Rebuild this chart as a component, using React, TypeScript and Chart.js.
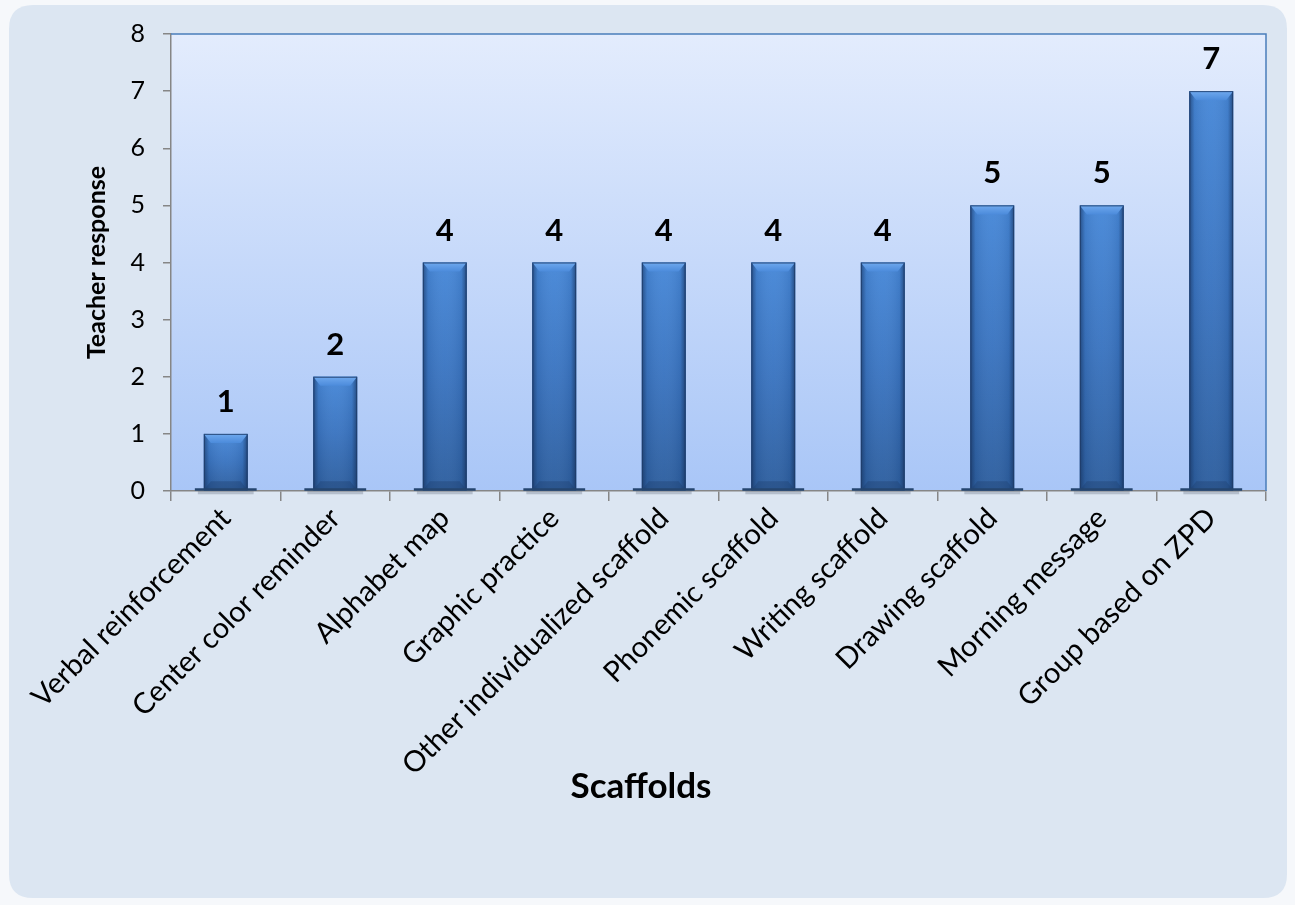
import { useEffect, useRef } from "react";
import { Chart, registerables } from "chart.js";
Chart.register(...registerables);

const categories = [
  "Verbal reinforcement",
  "Center color reminder",
  "Alphabet map",
  "Graphic practice",
  "Other individualized scaffold",
  "Phonemic scaffold",
  "Writing scaffold",
  "Drawing scaffold",
  "Morning message",
  "Group based on ZPD",
];
const values = [1, 2, 4, 4, 4, 4, 4, 5, 5, 7];
const yMin = 0;
const yMax = 8;
const yStep = 1;
const xTitle = "Scaffolds";
const yTitle = "Teacher response";

const FONT = "Lato, 'Open Sans', sans-serif";

const backgroundPlugin = {
  id: "bgPanel",
  beforeDraw(chart: any) {
    const { ctx, width, height, chartArea } = chart;
    ctx.save();
    ctx.fillStyle = "#f6f8fb";
    ctx.fillRect(0, 0, width, height);
    const x = 9, y = 5, w = 1278, h = 893, r = 24;
    ctx.beginPath();
    ctx.moveTo(x + r, y);
    ctx.lineTo(x + w - r, y);
    ctx.quadraticCurveTo(x + w, y, x + w, y + r);
    ctx.lineTo(x + w, y + h - r);
    ctx.quadraticCurveTo(x + w, y + h, x + w - r, y + h);
    ctx.lineTo(x + r, y + h);
    ctx.quadraticCurveTo(x, y + h, x, y + h - r);
    ctx.lineTo(x, y + r);
    ctx.quadraticCurveTo(x, y, x + r, y);
    ctx.closePath();
    ctx.fillStyle = "#dce6f2";
    ctx.fill();
    const g = ctx.createLinearGradient(0, chartArea.top, 0, chartArea.bottom);
    g.addColorStop(0, "#e3ecfd");
    g.addColorStop(1, "#a9c6f7");
    ctx.fillStyle = g;
    ctx.fillRect(chartArea.left, chartArea.top, chartArea.right - chartArea.left, chartArea.bottom - chartArea.top);
    ctx.restore();
  },
  afterDraw(chart: any) {
    const { ctx } = chart;
    ctx.save();
    ctx.fillStyle = "#000";
    ctx.font = `bold 35px ${FONT}`;
    ctx.textAlign = "center";
    ctx.textBaseline = "middle";
    ctx.fillText(xTitle, 641, 787);
    ctx.restore();
  },
};

const barPlugin = {
  id: "barDecor",
  afterDatasetsDraw(chart: any) {
    const { ctx, chartArea } = chart;
    const meta = chart.getDatasetMeta(0);
    ctx.save();
    ctx.strokeStyle = "#4a7ebb";
    ctx.lineWidth = 1.5;
    ctx.beginPath();
    ctx.moveTo(chartArea.left, chartArea.top);
    ctx.lineTo(chartArea.right, chartArea.top);
    ctx.lineTo(chartArea.right, chartArea.bottom);
    ctx.stroke();

    meta.data.forEach((el: any, i: number) => {
      const { x, y, base, width } = el.getProps(["x", "y", "base", "width"], true);
      const left = x - width / 2;
      const right = x + width / 2;
      const top = y;
      const bottom = base;
      const h = bottom - top;
      ctx.fillStyle = "rgba(60,70,90,0.25)";
      ctx.fillRect(left - 6, bottom + 1, width + 12, 3);
      const vg = ctx.createLinearGradient(0, top, 0, bottom);
      vg.addColorStop(0, "#4788d8");
      vg.addColorStop(0.5, "#3a74c0");
      vg.addColorStop(1, "#2d5e9e");
      ctx.fillStyle = vg;
      ctx.fillRect(left, top, width, h);
      const hg = ctx.createLinearGradient(left, 0, right, 0);
      hg.addColorStop(0, "rgba(20,45,85,0.6)");
      hg.addColorStop(0.12, "rgba(20,45,85,0.1)");
      hg.addColorStop(0.5, "rgba(255,255,255,0.03)");
      hg.addColorStop(0.88, "rgba(20,45,85,0.1)");
      hg.addColorStop(1, "rgba(20,45,85,0.65)");
      ctx.fillStyle = hg;
      ctx.fillRect(left, top, width, h);
      const bev = Math.min(9, h / 2);
      const tg = ctx.createLinearGradient(0, top, 0, top + bev);
      tg.addColorStop(0, "#6fa9ee");
      tg.addColorStop(1, "#4c8bdb");
      ctx.fillStyle = tg;
      ctx.beginPath();
      ctx.moveTo(left, top);
      ctx.lineTo(right, top);
      ctx.lineTo(right - 7, top + bev);
      ctx.lineTo(left + 7, top + bev);
      ctx.closePath();
      ctx.fill();
      ctx.fillStyle = "rgba(30,60,105,0.35)";
      ctx.beginPath();
      ctx.moveTo(left, bottom);
      ctx.lineTo(right, bottom);
      ctx.lineTo(right - 7, bottom - bev);
      ctx.lineTo(left + 7, bottom - bev);
      ctx.closePath();
      ctx.fill();
      ctx.strokeStyle = "rgba(30,60,105,0.85)";
      ctx.lineWidth = 1;
      ctx.strokeRect(left + 0.5, top + 0.5, width - 1, h - 1);
      ctx.fillStyle = "#25456f";
      ctx.fillRect(left - 9, bottom - 2, width + 18, 2.5);
      ctx.fillStyle = "#000";
      ctx.font = `bold 31px ${FONT}`;
      ctx.textAlign = "center";
      ctx.textBaseline = "middle";
      ctx.fillText(String(values[i]), x, top - 32);
    });
    ctx.restore();
  },
};

export default function App() {
  const ref = useRef<HTMLCanvasElement>(null);
  useEffect(() => {
    if (!ref.current) return;
    const chart = new Chart(ref.current, {
      type: "bar",
      data: {
        labels: categories,
        datasets: [
          {
            data: values,
            backgroundColor: "#3a74c0",
            borderWidth: 0,
            barPercentage: 0.4,
            categoryPercentage: 1,
          },
        ],
      },
      options: {
        responsive: false,
        animation: false,
        layout: { padding: { left: 0, top: 34, right: 29, bottom: 0 } },
        plugins: {
          legend: { display: false },
          tooltip: { enabled: false },
        },
        scales: {
          x: {
            grid: {
              offset: true,
              drawOnChartArea: false,
              drawTicks: true,
              tickLength: 10,
              color: "#868686",
              lineWidth: 1.5,
            },
            border: { display: true, color: "#868686", width: 1.5 },
            ticks: {
              autoSkip: false,
              minRotation: 45,
              maxRotation: 45,
              color: "#000",
              padding: 0,
              font: { family: FONT, size: 29 },
            },
            title: { display: false },
            afterFit(scale: any) {
              scale.height = 905 - 491;
              scale.paddingLeft = 0;
              scale.paddingRight = 0;
            },
          },
          y: {
            min: yMin,
            max: yMax,
            grid: {
              drawOnChartArea: false,
              drawTicks: true,
              tickLength: 8,
              color: "#868686",
              lineWidth: 1.5,
            },
            border: { display: true, color: "#868686", width: 1.5 },
            ticks: {
              stepSize: yStep,
              color: "#000",
              padding: 18,
              font: { family: FONT, size: 25 },
            },
            title: {
              display: true,
              text: yTitle,
              color: "#000",
              font: { family: FONT, size: 25, weight: "bold" },
              padding: { top: 82, bottom: 0 },
            },
            afterFit(scale: any) {
              scale.width = 171;
            },
          },
        },
      },
      plugins: [backgroundPlugin, barPlugin],
    });
    return () => chart.destroy();
  }, []);
  return (
    <div style={{ position: "fixed", left: 0, top: 0, width: 1295, height: 905 }}>
      <canvas ref={ref} width={1295} height={905} style={{ display: "block" }} />
    </div>
  );
}
